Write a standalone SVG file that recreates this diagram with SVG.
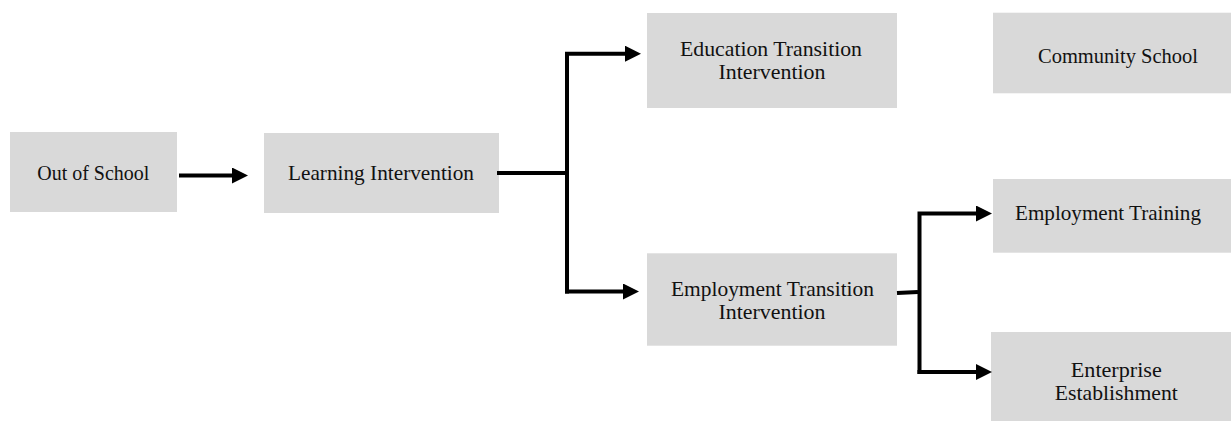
<svg xmlns="http://www.w3.org/2000/svg" width="1231" height="421" viewBox="0 0 1231 421">
  <style>
    .box { fill: #d9d9d9; }
    .label { font-family: "Liberation Serif", "Times New Roman", serif; font-size: 21.5px; fill: #111; text-anchor: middle; }
    .wire { fill: none; stroke: #000; stroke-width: 4; stroke-linecap: butt; stroke-linejoin: miter; }
  </style>
  <defs>
    <marker id="arrow" viewBox="0 0 16 16" refX="1" refY="8" markerWidth="16" markerHeight="16" markerUnits="userSpaceOnUse" orient="auto">
      <path d="M0,0 L16,8 L0,16 z" fill="#000"/>
    </marker>
  </defs>

  <rect width="1231" height="421" fill="#fff"/>

  <!-- nodes -->
  <g id="out-of-school">
    <rect class="box" x="10" y="132" width="167" height="80"/>
    <text class="label" x="93.3" y="179.5" textLength="112" lengthAdjust="spacingAndGlyphs">Out of School</text>
  </g>

  <g id="learning-intervention">
    <rect class="box" x="264" y="133" width="235" height="80"/>
    <text class="label" x="381" y="180" textLength="186" lengthAdjust="spacingAndGlyphs">Learning Intervention</text>
  </g>

  <g id="education-transition">
    <rect class="box" x="647" y="13" width="250" height="95"/>
    <text class="label" x="771" y="55.5" textLength="182" lengthAdjust="spacingAndGlyphs">Education Transition</text>
    <text class="label" x="772" y="79" textLength="107" lengthAdjust="spacingAndGlyphs">Intervention</text>
  </g>

  <g id="community-school">
    <rect class="box" x="993" y="12.7" width="238" height="80.6"/>
    <text class="label" x="1118" y="63" textLength="160" lengthAdjust="spacingAndGlyphs">Community School</text>
  </g>

  <g id="employment-transition">
    <rect class="box" x="647" y="253.3" width="250" height="92.4"/>
    <text class="label" x="772.5" y="295.7" textLength="203" lengthAdjust="spacingAndGlyphs">Employment Transition</text>
    <text class="label" x="772" y="319" textLength="107" lengthAdjust="spacingAndGlyphs">Intervention</text>
  </g>

  <g id="employment-training">
    <rect class="box" x="993" y="179" width="238" height="73.7"/>
    <text class="label" x="1108" y="220" textLength="186" lengthAdjust="spacingAndGlyphs">Employment Training</text>
  </g>

  <g id="enterprise-establishment">
    <rect class="box" x="991" y="332" width="240" height="89"/>
    <text class="label" x="1116.3" y="376.8" textLength="91" lengthAdjust="spacingAndGlyphs">Enterprise</text>
    <text class="label" x="1116.3" y="399.8" textLength="123" lengthAdjust="spacingAndGlyphs">Establishment</text>
  </g>

  <!-- connectors -->
  <g id="connectors">
    <path class="wire" d="M179,175.5 H233" marker-end="url(#arrow)"/>
    <path class="wire" d="M497,173 H567"/>
    <path class="wire" d="M567,293.5 V51.7 M565,53.7 H626" marker-end="url(#arrow)"/>
    <path class="wire" d="M565,291.5 H624" marker-end="url(#arrow)"/>
    <path class="wire" d="M897,293 L918,292"/>
    <path class="wire" d="M919.5,374 V211.5 M917.5,213.5 H977" marker-end="url(#arrow)"/>
    <path class="wire" d="M917.5,372 H977" marker-end="url(#arrow)"/>
  </g>
</svg>
